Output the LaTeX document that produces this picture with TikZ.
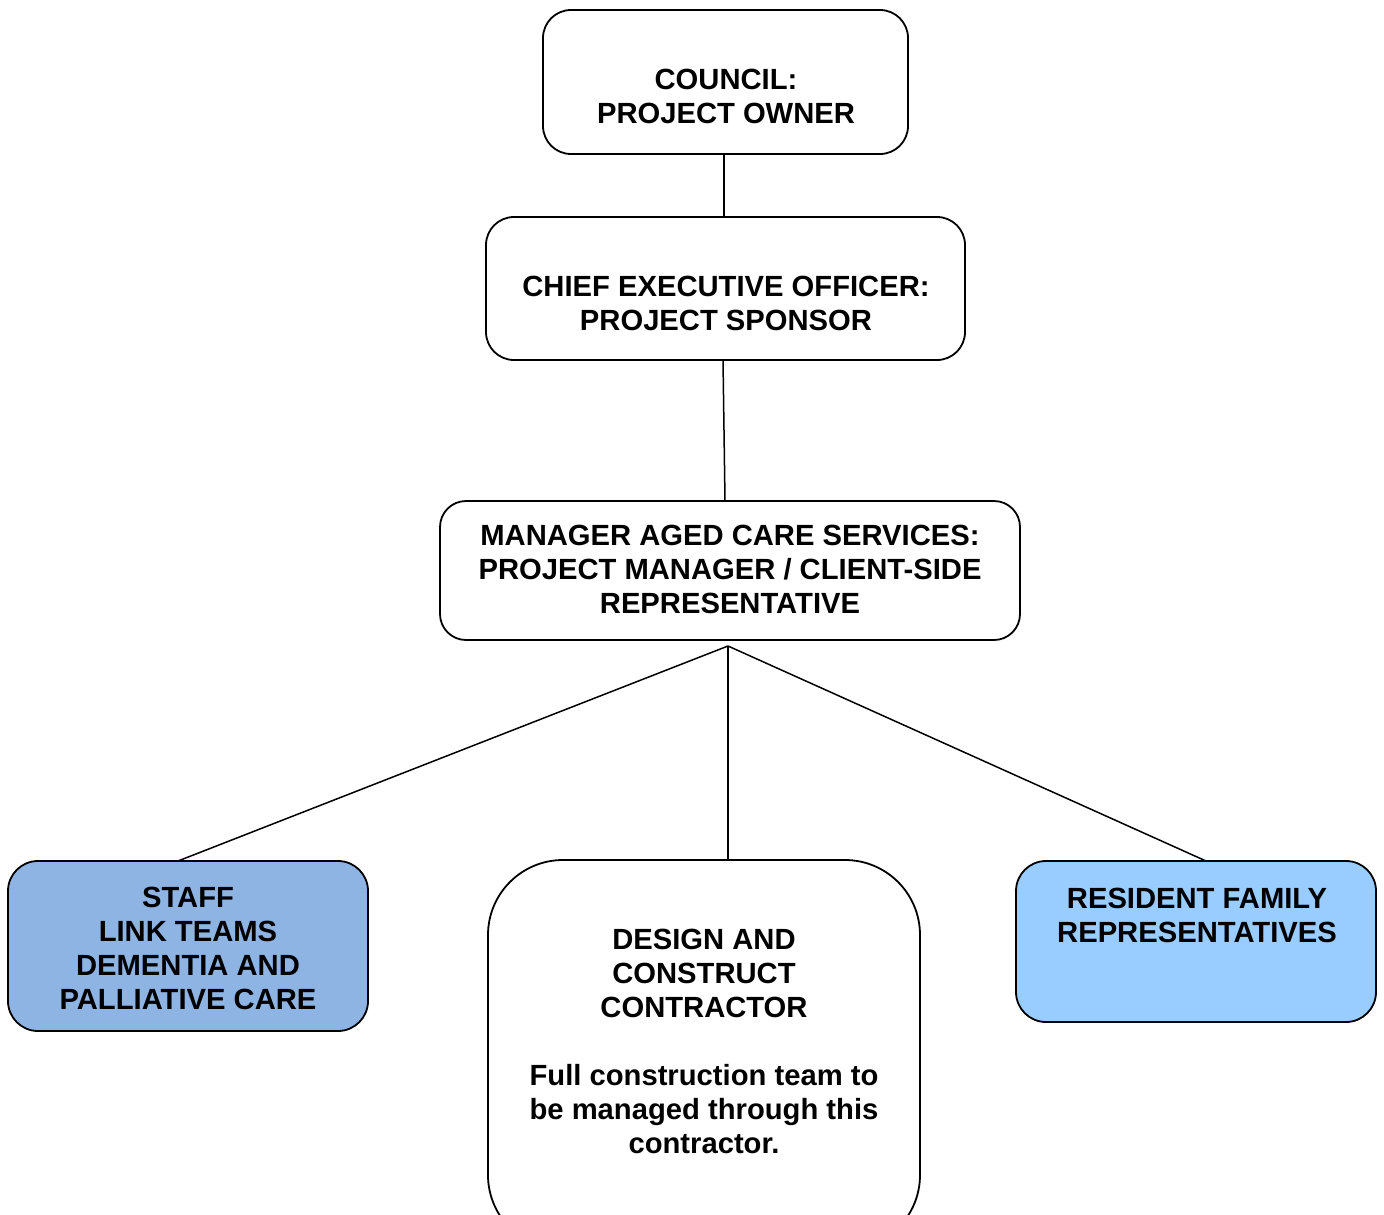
\documentclass[tikz,border=0pt]{standalone}
\usepackage{fontspec}
\setmainfont{Liberation Sans}
\definecolor{staffblue}{HTML}{8EB4E3}
\definecolor{resblue}{HTML}{99CCFF}
\begin{document}
\begin{tikzpicture}[x=1pt,y=-1pt,
  box/.style={draw=black, line width=1.8pt, rounded corners=#1, inner sep=0pt, outer sep=0pt},
  box/.default=28pt,
  txt/.style={align=center, inner sep=0pt, font=\bfseries\fontsize{29.2}{34}\selectfont},
  link/.style={draw=black, line width=1.5pt}]
\useasboundingbox (0,0) rectangle (1384,1215);
\clip (0,0) rectangle (1384,1215);
% boxes
\node[box, minimum width=365pt, minimum height=144pt] (council) at (725.5,82) {};
\node[box, minimum width=479pt, minimum height=143pt] (ceo) at (725.5,288.5) {};
\node[box=26pt, minimum width=580pt, minimum height=139pt] (manager) at (730,570.5) {};
\node[box=30pt, fill=staffblue, minimum width=360pt, minimum height=170pt] (staff) at (188,946) {};
\node[box=75pt, minimum width=432pt, minimum height=390pt] (design) at (704,1055) {};
\node[box=30pt, fill=resblue, minimum width=360pt, minimum height=161pt] (resident) at (1196,941.5) {};
% texts
\node[txt] (tcouncil) at (726,96) {COUNCIL:\\PROJECT OWNER};
\node[txt] (tceo) at (726,303) {CHIEF EXECUTIVE OFFICER:\\PROJECT SPONSOR};
\node[txt] (tmanager) at (730,569.5) {MANAGER AGED CARE SERVICES:\\PROJECT MANAGER / CLIENT-SIDE\\REPRESENTATIVE};
\node[txt] (tstaff) at (188,948) {STAFF\\LINK TEAMS\\DEMENTIA AND\\PALLIATIVE CARE};
\node[txt] (tdesign) at (704,1041) {DESIGN AND\\CONSTRUCT\\CONTRACTOR\\[34pt]Full construction team to\\be managed through this\\contractor.};
\node[txt] (tresident) at (1197,915) {RESIDENT FAMILY\\REPRESENTATIVES};
% connectors
\coordinate (hub) at (728,646);
\draw[link] ([xshift=-1.5pt]council.south) -- ([xshift=-1.5pt]ceo.north);
\draw[link] ([xshift=-2.5pt]ceo.south) -- ([xshift=-5pt]manager.north);
\draw[link] (hub) -- ([xshift=-10pt]staff.north);
\draw[link] (hub) -- (hub |- design.north);
\draw[link] (hub) -- ([xshift=10pt]resident.north);
\end{tikzpicture}
\end{document}
